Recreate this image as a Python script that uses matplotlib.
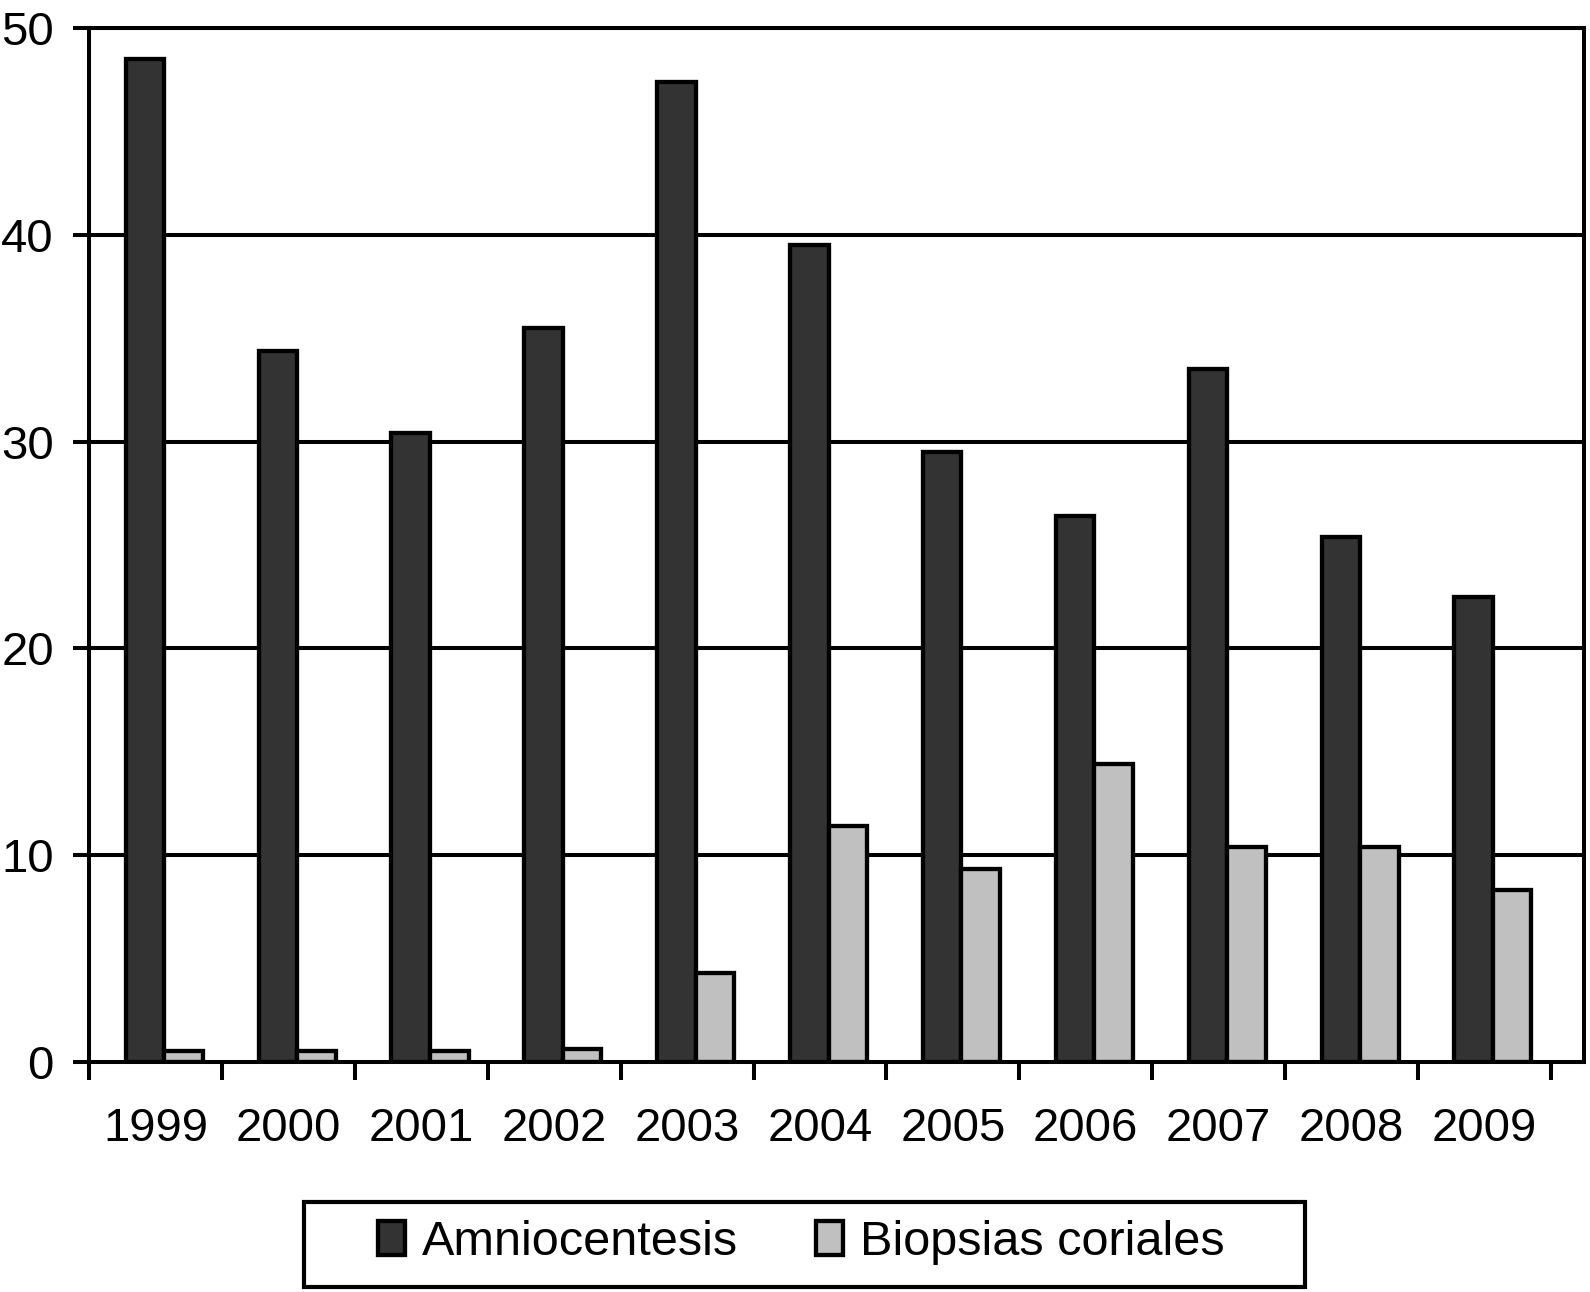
import numpy as np
import matplotlib
matplotlib.use("Agg")
import matplotlib.pyplot as plt
from matplotlib.patches import Rectangle

plt.rcParams['font.family'] = ['Liberation Sans', 'DejaVu Sans']

years = ["1999", "2000", "2001", "2002", "2003", "2004",
         "2005", "2006", "2007", "2008", "2009"]
amnio = [48.5, 34.4, 30.4, 35.5, 47.4, 39.5, 29.5, 26.4, 33.5, 25.4, 22.5]
biopsias = [0.5, 0.5, 0.5, 0.6, 4.3, 11.4, 9.3, 14.4, 10.4, 10.4, 8.3]

fig = plt.figure(figsize=(15.9, 12.92), dpi=100)
ax = fig.add_axes([0.0561, 0.1783, 0.9401, 0.7997])

x = np.arange(len(years))
w = 0.29
shift = 0.065

# grid first so bars sit on top
for v in [10, 20, 30, 40, 50]:
    ax.axhline(v, color="black", lw=2.9, zorder=1)

ax.bar(x + shift - w/2, amnio, w, color="#333333", edgecolor="black",
       linewidth=3.1, zorder=2, label="Amniocentesis")
ax.bar(x + shift + w/2, biopsias, w, color="#c0c0c0", edgecolor="black",
       linewidth=3.1, zorder=2, label="Biopsias coriales")

ax.set_ylim(0, 50)
ax.set_xlim(-0.5, 10.75)
ax.set_yticks([0, 10, 20, 30, 40, 50])
ax.set_yticklabels(["0", "10", "20", "30", "40", "50"], fontsize=34)

# tick marks at category boundaries, labels at centres
ax.set_xticks(np.arange(-0.5, 11.0, 1.0))
ax.set_xticklabels([])
ax.set_xticks(x, minor=True)
ax.set_xticklabels(years, minor=True, fontsize=34)
ax.tick_params(axis="x", which="major", length=13, width=2.9, direction="out")
ax.tick_params(axis="x", which="minor", length=0, pad=33)
ax.tick_params(axis="y", length=11.5, width=2.9, pad=14)

for s in ax.spines.values():
    s.set_linewidth(2.9)
    s.set_color("black")

# legend with a hand-placed frame
fig.patches.append(Rectangle((0.191, 0.004), 0.630, 0.066, transform=fig.transFigure,
                             fill=False, edgecolor="black", linewidth=3.0))
fig.legend(loc="center", bbox_to_anchor=(0.504, 0.038), ncol=2, frameon=False,
           fontsize=35, handlelength=0.56, handleheight=0.7, handletextpad=0.35,
           columnspacing=1.6)

fig.savefig("out.png", dpi=100)
